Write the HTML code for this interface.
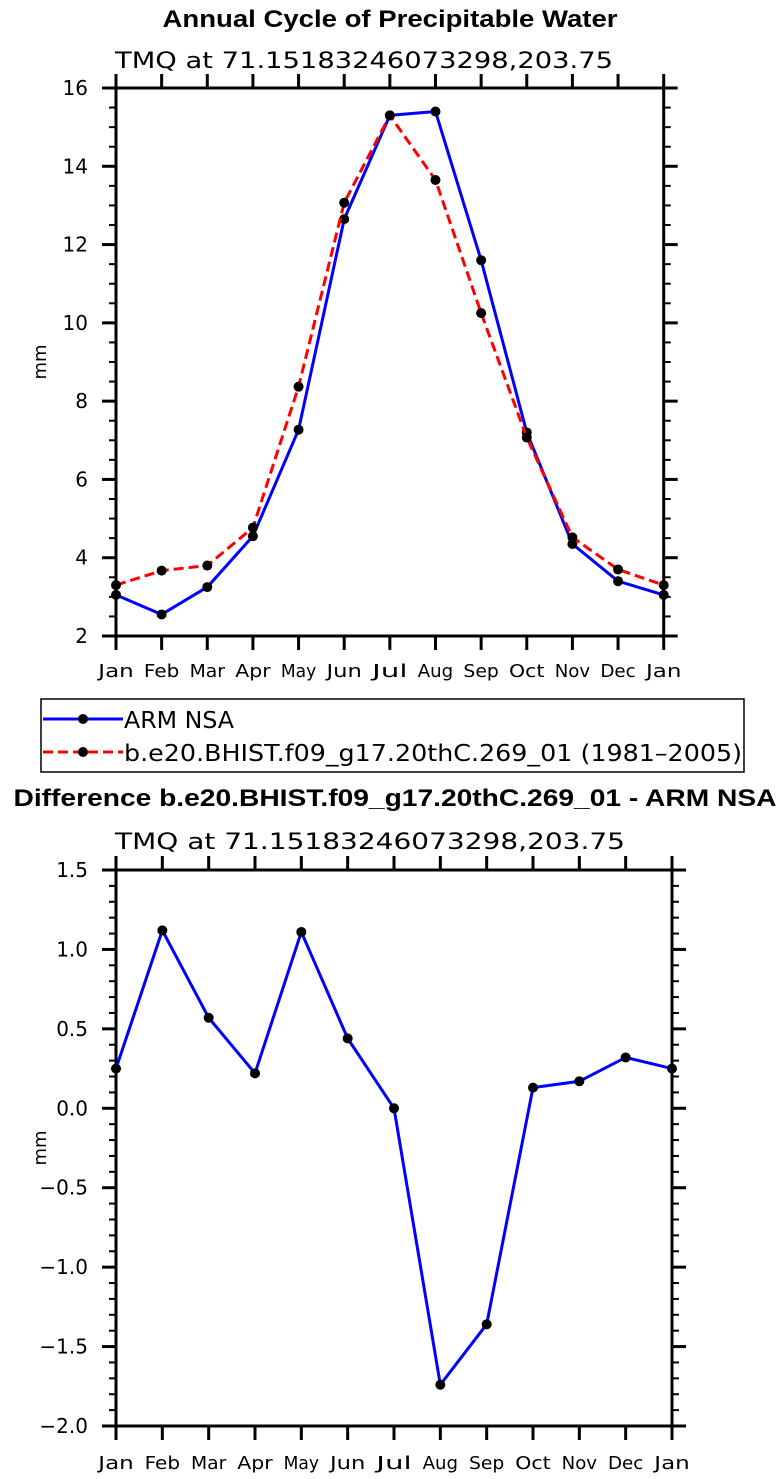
<!DOCTYPE html>
<html><head><meta charset="utf-8"><style>
html,body{margin:0;padding:0;background:#fff;}
svg{display:block;font-family:"DejaVu Sans","Liberation Sans",sans-serif;}
</style></head><body>
<svg id="fig" width="779" height="1479" viewBox="0 0 779 1479" xmlns="http://www.w3.org/2000/svg">
<text x="390" y="27" text-anchor="middle" font-family="Liberation Sans, sans-serif" font-weight="bold" font-size="24" textLength="455" lengthAdjust="spacingAndGlyphs">Annual Cycle of Precipitable Water</text>
<text x="364" y="68" text-anchor="middle" font-size="22" textLength="498" lengthAdjust="spacingAndGlyphs">TMQ at 71.15183246073298,203.75</text>
<g id="top"></g>
<g>
<rect x="41" y="699" width="703" height="73" fill="none" stroke="#000" stroke-width="1.5"/>
<g>
<line x1="43" y1="719" x2="123" y2="719" stroke="#00f" stroke-width="3"/>
<circle cx="83" cy="719" r="5" fill="#000"/>
<text x="124" y="728" font-size="23" textLength="110" lengthAdjust="spacingAndGlyphs">ARM NSA</text>
</g>
<g>
<line x1="43" y1="752" x2="123" y2="752" stroke="#f00" stroke-width="3" stroke-dasharray="10,5"/>
<circle cx="83" cy="752" r="5" fill="#000"/>
<text x="124" y="761" font-size="23" textLength="618" lengthAdjust="spacingAndGlyphs">b.e20.BHIST.f09_g17.20thC.269_01 (1981–2005)</text>
</g>
</g>
<text x="395" y="806" text-anchor="middle" font-family="Liberation Sans, sans-serif" font-weight="bold" font-size="24" textLength="763" lengthAdjust="spacingAndGlyphs">Difference b.e20.BHIST.f09_g17.20thC.269_01 - ARM NSA</text>
<text x="370" y="849" text-anchor="middle" font-size="22" textLength="510" lengthAdjust="spacingAndGlyphs">TMQ at 71.15183246073298,203.75</text>
<g id="bot"></g>
</svg>
<script>
const months = ["Jan","Feb","Mar","Apr","May","Jun","Jul","Aug","Sep","Oct","Nov","Dec","Jan"];
const armNsa = [3.05,2.55,3.25,4.55,7.27,12.65,15.3,15.4,11.6,7.2,4.35,3.4,3.05];
const model = [3.3,3.67,3.8,4.77,8.37,13.07,15.3,13.65,10.25,7.07,4.52,3.7,3.3];
const diff = [0.25,1.12,0.57,0.22,1.11,0.44,0.0,-1.74,-1.36,0.13,0.17,0.32,0.25];
const topTicks = [2,4,6,8,10,12,14,16];
const topTickLabels = ["2","4","6","8","10","12","14","16"];
const botTicks = [-2,-1.5,-1,-0.5,0,0.5,1,1.5];
const botTickLabels = ["\u22122.0","\u22121.5","\u22121.0","\u22120.5","0.0","0.5","1.0","1.5"];
const NS="http://www.w3.org/2000/svg";
function mk(parent,tag,attrs,txt){const e=document.createElementNS(NS,tag);for(const k in attrs)e.setAttribute(k,attrs[k]);if(txt!==undefined)e.textContent=txt;parent.appendChild(e);return e;}
function chart(g,cfg){
  const {L,R,T,B,ymin,ymax,minor,ticks,labels,series,xLabelY}=cfg;
  const xs=i=>L+i*(R-L)/(months.length-1);
  const ys=v=>B-(v-ymin)/(ymax-ymin)*(B-T);
  const ax=mk(g,'g',{});
  
  
  const n=Math.round((ymax-ymin)/minor);
  for(let k=0;k<=n;k++){const y=ys(ymin+k*minor);
    mk(ax,'line',{x1:L-7,y1:y,x2:L,y2:y,stroke:'#000','stroke-width':2});
    mk(ax,'line',{x1:R,y1:y,x2:R+7,y2:y,stroke:'#000','stroke-width':2});}
  ticks.forEach((t,i)=>{const y=ys(t);
    mk(ax,'line',{x1:L-14,y1:y,x2:L,y2:y,stroke:'#000','stroke-width':3});
    mk(ax,'line',{x1:R,y1:y,x2:R+14,y2:y,stroke:'#000','stroke-width':3});
    const tl=mk(ax,'text',{x:88,y:y+7,'text-anchor':'end','font-size':20},labels[i]);
    
    
  });
  months.forEach((m,i)=>{const x=xs(i);
    mk(ax,'line',{x1:x,y1:B,x2:x,y2:B+14,stroke:'#000','stroke-width':3});
    mk(ax,'line',{x1:x,y1:T-14,x2:x,y2:T,stroke:'#000','stroke-width':3});
    const tl=mk(ax,'text',{x:x,y:xLabelY,'text-anchor':'middle','font-size':18,textLength:m.length*11.8,lengthAdjust:'spacingAndGlyphs'},m);
    
    
  });
  mk(ax,'rect',{x:L,y:T,width:R-L,height:B-T,fill:'none',stroke:'#000','stroke-width':3});
  const yl=mk(ax,'text',{x:0,y:0,'text-anchor':'middle','font-size':18,transform:`translate(46,${(T+B)/2}) rotate(-90)`},'mm');
  
  
  series.forEach(s=>{
    const sg=mk(g,'g',{});
    
    
    const pts=s.data.map((v,i)=>xs(i)+','+ys(v)).join(' ');
    const attrs={points:pts,fill:'none',stroke:s.color,'stroke-width':3,'stroke-linejoin':'round'};
    if(s.dash)attrs['stroke-dasharray']=s.dash;
    mk(sg,'polyline',attrs);
    s.data.forEach((v,i)=>{const c=mk(sg,'circle',{cx:xs(i),cy:ys(v),r:5,fill:'#000'});
      
      });
  });
}
chart(document.getElementById('top'),{L:116,R:663.7,T:88,B:636,ymin:2,ymax:16,minor:0.5,ticks:topTicks,labels:topTickLabels,xLabelY:677,
  series:[{name:'series-arm-nsa',data:armNsa,color:'#00f'},{name:'series-model',data:model,color:'#f00',dash:'10,5'}]});
chart(document.getElementById('bot'),{L:116,R:672,T:870,B:1426,ymin:-2,ymax:1.5,minor:0.1,ticks:botTicks,labels:botTickLabels,xLabelY:1469,
  series:[{name:'series-difference',data:diff,color:'#00f'}]});
</script>
</body></html>
